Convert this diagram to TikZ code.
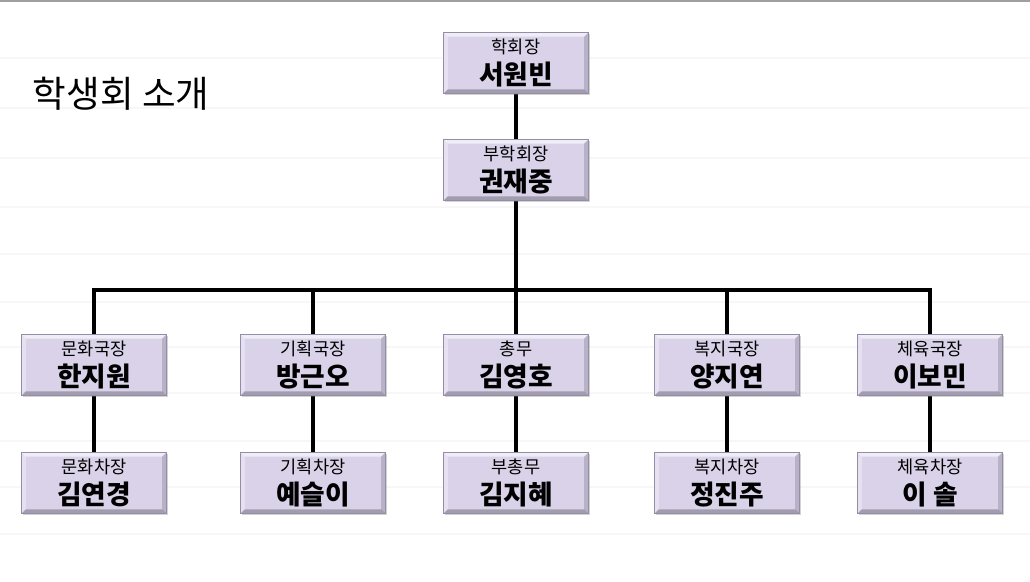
\documentclass[tikz,border=0pt]{standalone}
\usepackage{fontspec}
\setmainfont{Noto Sans CJK KR}
\newfontfamily\titlefont{Noto Sans CJK KR}
\usetikzlibrary{shadows}
\definecolor{boxfill}{RGB}{217,210,233}
\definecolor{boxline}{RGB}{150,140,170}
\definecolor{ruleline}{RGB}{247,247,247}
\newcommand{\orgtext}[2]{{\fontsize{12.5}{22}\selectfont #1}\\{\bfseries #2}}
\begin{document}
\begin{tikzpicture}[x=0.025cm,y=-0.025cm]

    \tikzset{
      orgbox/.style={
        draw=boxline,
        fill=boxfill,
        align=center,
        inner sep=0pt,
        font=\fontsize{19}{22}\selectfont,
        minimum width=3.62cm,
        minimum height=1.53cm,
        drop shadow={shadow xshift=1.2pt,shadow yshift=-1.2pt,opacity=0.35},
        path picture={
          \fill[white,opacity=0.6] (path picture bounding box.north west) -- (path picture bounding box.north east)
            -- ++(-3pt,-3pt) -- ([shift={(3pt,-3pt)}]path picture bounding box.north west) -- cycle;
          \fill[white,opacity=0.35] (path picture bounding box.north west) -- ([shift={(3pt,-3pt)}]path picture bounding box.north west)
            -- ([shift={(3pt,3pt)}]path picture bounding box.south west) -- (path picture bounding box.south west) -- cycle;
          \fill[black,opacity=0.25] (path picture bounding box.south west) -- (path picture bounding box.south east)
            -- ++(-3pt,3pt) -- ([shift={(3pt,3pt)}]path picture bounding box.south west) -- cycle;
          \fill[black,opacity=0.15] (path picture bounding box.north east) -- ([shift={(-3pt,-3pt)}]path picture bounding box.north east)
            -- ([shift={(-3pt,3pt)}]path picture bounding box.south east) -- (path picture bounding box.south east) -- cycle;
        },
      },
      conn/.style={line width=2.2pt,black},
    }
    \useasboundingbox (0,0) rectangle (1030,582);
    % faint ruled lines and top border
    \foreach \y in {58,108,158,207,254,302,347,393,441,487,534}
      \draw[ruleline,line width=1pt] (0,\y) -- (1030,\y);
    \draw[gray!75,line width=1.6pt] (0,1) -- (1030,1);

    \node[anchor=west,font=\titlefont\fontsize{26}{30}\selectfont] (title) at (28,94) {학생회 소개};

    \coordinate (bus) at (516,290);
    \draw[conn] (516,63) -- (bus);
    \foreach \x in {94,313,727,930}
      \draw[conn] (\x,365) |- (bus);
    \draw[conn] (bus) -- (516,365);
    \foreach \x in {94,313,516,727,930}
      \draw[conn] (\x,365) -- (\x,484);

    \node[orgbox] (pres) at (516,63) {\orgtext{학회장}{서원빈}};
    \node[orgbox] (vp) at (516,170) {\orgtext{부학회장}{권재중}};

    \foreach \i/\x/\ta/\na/\tb/\nb in {1/94/문화국장/한지원/문화차장/김연경,
        2/313/기획국장/방근오/기획차장/예슬이,
        3/516/총무/김영호/부총무/김지혜,
        4/727/복지국장/양지연/복지차장/정진주,
        5/930/체육국장/이보민/체육차장/이 솔}{
      \node[orgbox] (d\i) at (\x,365) {\orgtext{\ta}{\na}};
      \node[orgbox] (s\i) at (\x,483) {\orgtext{\tb}{\nb}};
    }

\end{tikzpicture}
\end{document}
